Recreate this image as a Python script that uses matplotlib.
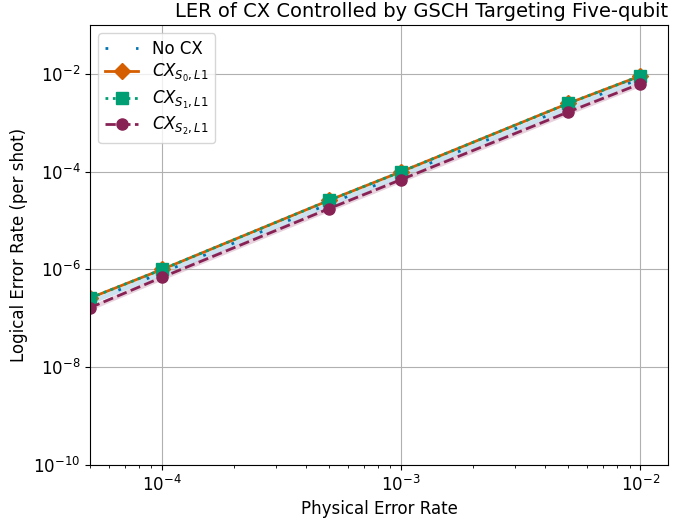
import numpy as np
import matplotlib.pyplot as plt

# physical error rates and logical error rates (per shot)
p = [5e-5, 1e-4, 5e-4, 1e-3, 5e-3, 1e-2]
ler_no_cx = [2.2e-7, 8.6e-7, 2.2e-5, 8.6e-5, 2.1e-3, 8.0e-3]
ler_s0 = [2.6e-7, 1.0e-6, 2.6e-5, 1.0e-4, 2.5e-3, 9.1e-3]
ler_s1 = [2.6e-7, 1.0e-6, 2.6e-5, 1.0e-4, 2.5e-3, 9.1e-3]
ler_s2 = [1.65e-7, 6.9e-7, 1.76e-5, 6.9e-5, 1.67e-3, 6.3e-3]

# rough confidence band half-width (relative)
band_no_cx = 0.12
band_s2 = 0.12

plt.rcParams['font.size'] = 12

fig = plt.figure(figsize=(6.78, 5.27), dpi=100)
ax = fig.add_axes([90 / 678, 1 - 465 / 527, 578 / 678, 440 / 527])

p_arr = np.array(p)
nc = np.array(ler_no_cx)
s2 = np.array(ler_s2)
ax.fill_between(p_arr, nc * (1 - band_no_cx), nc * (1 + band_no_cx), color='#0072B2', alpha=0.2, lw=0)
ax.fill_between(p_arr, s2 * (1 - band_s2), s2 * (1 + band_s2), color='#882255', alpha=0.2, lw=0)

ax.plot(p, ler_no_cx, color='#0072B2', linestyle=(0, (1, 10)), lw=2, label='No CX')
ax.plot(p, ler_s0, color='#D55E00', marker='D', ms=8, lw=2, label=r'$CX_{S_0,L1}$')
ax.plot(p, ler_s1, color='#009E73', marker='s', ms=8, lw=2, linestyle=':', label=r'$CX_{S_1,L1}$')
ax.plot(p, ler_s2, color='#882255', marker='o', ms=8, lw=2, linestyle='--', label=r'$CX_{S_2,L1}$')

ax.set_xscale('log')
ax.set_yscale('log')
ax.set_xlim(left=5e-5)
ax.set_ylim(1e-10, 1e-1)
ax.grid(True)
ax.set_xlabel('Physical Error Rate')
ax.set_ylabel('Logical Error Rate (per shot)')
ax.set_title('LER of CX Controlled by GSCH Targeting Five-qubit', loc='right', fontsize=14)
ax.legend(loc='upper left', labelspacing=0.25)

fig.savefig('out.png', dpi=100)
